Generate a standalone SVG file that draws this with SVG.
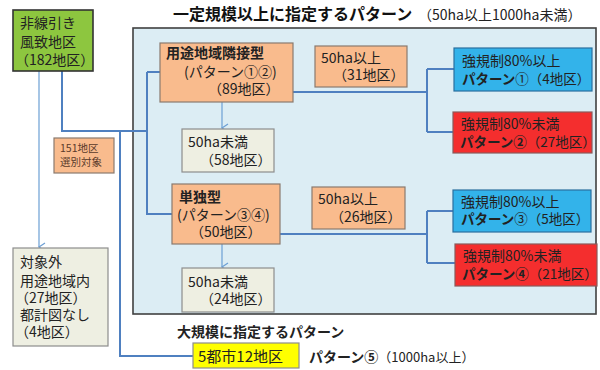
<svg xmlns="http://www.w3.org/2000/svg" width="600" height="370" viewBox="0 0 600 370">
<defs>
<marker id="arrd" markerWidth="10" markerHeight="10" refX="5" refY="8" orient="90" markerUnits="userSpaceOnUse" viewBox="0 0 10 10">
<path d="M1,2 L5,8 L9,2" fill="none" stroke="#6c9fd4" stroke-width="1.2"/>
</marker>
</defs>
<style>
text{font-family:"Noto Sans CJK JP","Noto Sans",sans-serif;font-size:14px;fill:#222}
.b{font-weight:bold}
.t{font-size:16px;font-weight:bold;fill:#111}
.s{font-size:14px}
.p{font-size:13.5px}
.sm{font-size:10.5px;fill:#5a3a2a}
.orange{fill:#f9bb8d;stroke:#8a7a6e;stroke-width:1.2}
.pale{fill:#eeefe2;stroke:#8d8d8d;stroke-width:1.2}
.blue{fill:#33b3ea;stroke:#2a6f9e;stroke-width:1.2}
.red{fill:#f42e2e;stroke:#8a5a5a;stroke-width:1.2}
.c{fill:none;stroke:#4f80c0;stroke-width:2}
.a{fill:none;stroke:#6c9fd4;stroke-width:1.2}
</style>
<rect x="0" y="0" width="600" height="370" fill="#ffffff"/>
<g id="frame">
<rect x="133" y="28" width="463" height="286" fill="#dcedf4" stroke="#404040" stroke-width="1.6"/>
<text class="t" x="173" y="20">一定規模以上に指定するパターン</text>
<text class="s" x="418" y="20">（50ha以上1000ha未満）</text>
<text class="b" x="177" y="337">大規模に指定するパターン</text>
</g>
<g id="connectors">
<path class="a" d="M39,71 V247" marker-end="url(#arrd)"/>
<path class="c" d="M62,71 V131 H147"/>
<path class="c" d="M147,72 H160 M147,72 V214 H172"/>
<path class="c" d="M120,131 V356 H193"/>
<path class="c" d="M293,92 H427 M427,69 V132 M427,69 H454 M427,132 H453"/>
<path class="c" d="M280,234 H427 M427,211 V263 M427,211 H453 M427,263 H455"/>
<path class="a" d="M222,102 V128" marker-end="url(#arrd)"/>
<path class="a" d="M222,244 V267" marker-end="url(#arrd)"/>
</g>
<g id="n-green">
<rect x="13" y="10" width="80" height="61" fill="#8dc63f" stroke="#333" stroke-width="1.6"/>
<text x="20" y="28">非線引き</text>
<text x="20" y="47">風致地区</text>
<text x="15" y="65">（182地区）</text>
</g>
<g id="n-select">
<rect x="54" y="138" width="60" height="35" class="orange"/>
<text class="sm" x="60" y="152">151地区</text>
<text class="sm" x="60" y="166">選別対象</text>
</g>
<g id="n-out">
<rect x="13" y="248" width="95" height="98" class="pale"/>
<text x="20" y="267">対象外</text>
<text x="20" y="286">用途地域内</text>
<text x="15" y="303">（27地区）</text>
<text x="20" y="320">都計図なし</text>
<text x="15" y="337">（4地区）</text>
</g>
<g id="n-youto">
<rect x="160" y="43" width="133" height="59" class="orange"/>
<text class="b" x="166" y="58">用途地域隣接型</text>
<text x="184" y="77">(パターン①②)</text>
<text x="208" y="94">（89地区）</text>
</g>
<g id="n-50a">
<rect x="315" y="46" width="92" height="41" class="orange"/>
<text x="321" y="63">50ha以上</text>
<text x="333" y="80">（31地区）</text>
</g>
<g id="n-u58">
<rect x="182" y="129" width="92" height="43" class="pale"/>
<text x="188" y="147">50ha未満</text>
<text x="200" y="165">（58地区）</text>
</g>
<g id="n-p1">
<rect x="454" y="48" width="138" height="43" class="blue"/>
<text x="462" y="66">強規制80%以上</text>
<text class="p" x="462" y="84"><tspan class="b">パターン</tspan>①（4地区）</text>
</g>
<g id="n-p2">
<rect x="453" y="112" width="139" height="41" class="red"/>
<text x="461" y="129">強規制80%未満</text>
<text class="p" x="460" y="147"><tspan class="b">パターン②</tspan>（27地区）</text>
</g>
<g id="n-tandoku">
<rect x="172" y="184" width="108" height="60" class="orange"/>
<text class="b" x="179" y="202">単独型</text>
<text x="177" y="220">(パターン③④)</text>
<text x="190" y="237">（50地区）</text>
</g>
<g id="n-50b">
<rect x="312" y="187" width="93" height="42" class="orange"/>
<text x="318" y="204">50ha以上</text>
<text x="330" y="222">（26地区）</text>
</g>
<g id="n-u24">
<rect x="182" y="268" width="92" height="44" class="pale"/>
<text x="188" y="287">50ha未満</text>
<text x="200" y="304">（24地区）</text>
</g>
<g id="n-p3">
<rect x="453" y="190" width="138" height="42" class="blue"/>
<text x="461" y="207">強規制80%以上</text>
<text class="p" x="461" y="224"><tspan class="b">パターン</tspan>③（5地区）</text>
</g>
<g id="n-p4">
<rect x="455" y="244" width="142" height="42" class="red"/>
<text x="463" y="261">強規制80%未満</text>
<text class="p" x="462" y="279"><tspan class="b">パターン④</tspan>（21地区）</text>
</g>
<g id="n-large">
<rect x="193" y="343" width="106" height="25" fill="#ffff00" stroke="#8d8d8d" stroke-width="1.2"/>
<text x="198" y="362" style="font-size:15px">5都市12地区</text>
<text x="309" y="362"><tspan class="b">パターン⑤</tspan><tspan style="font-size:13px">（1000ha以上）</tspan></text>
</g>
</svg>
